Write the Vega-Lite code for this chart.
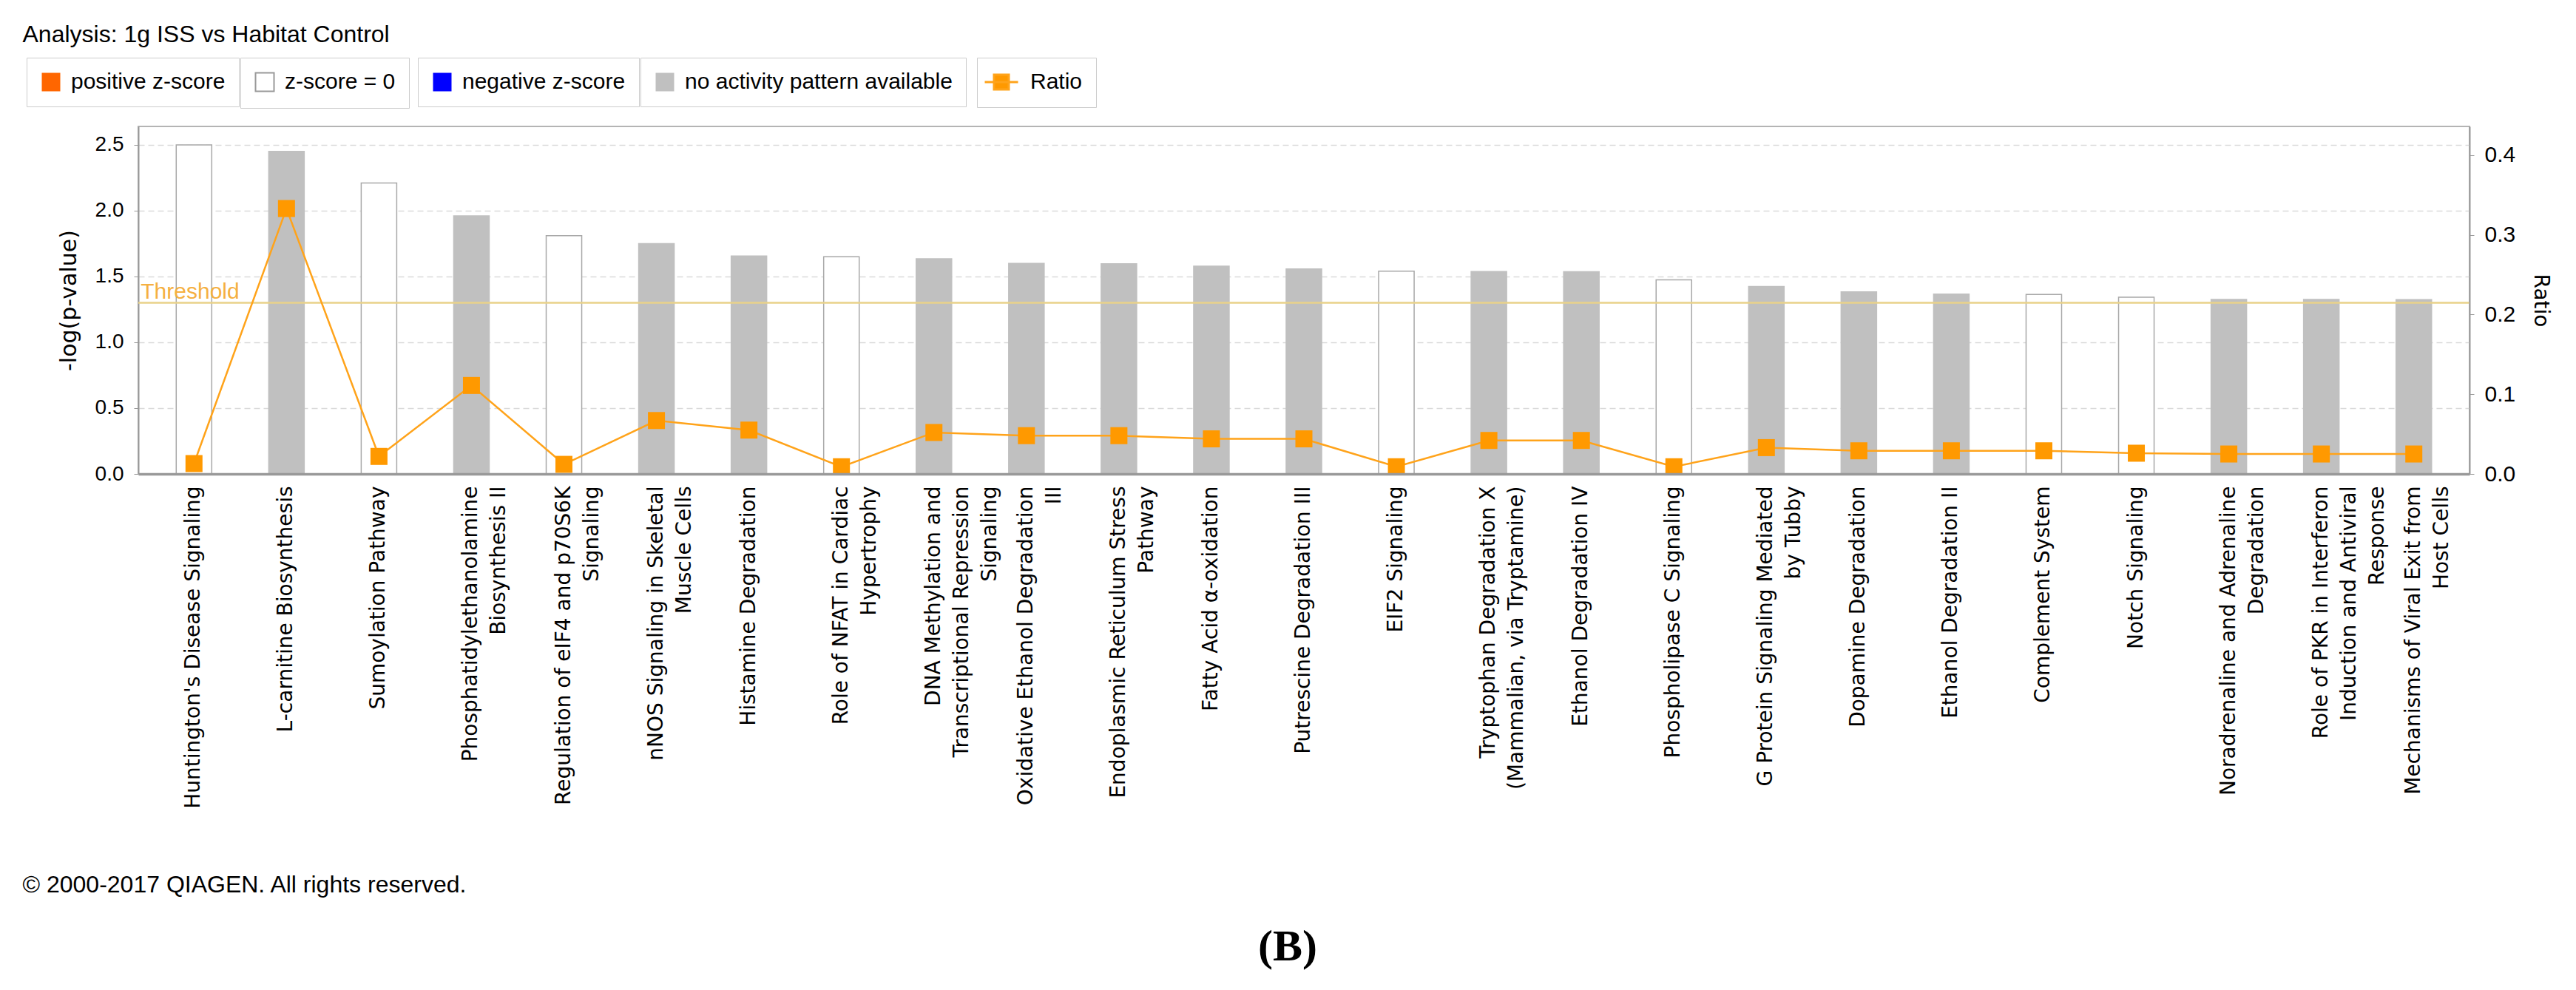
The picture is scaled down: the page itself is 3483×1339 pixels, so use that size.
{
  "$schema": "https://vega.github.io/schema/vega-lite/v6.json",
  "width": 3152,
  "height": 470,
  "autosize": {"type": "none"},
  "padding": {"left": 187, "top": 171, "right": 144, "bottom": 698},
  "background": "#FFFFFF",
  "config": {
    "view": {"stroke": "#B4B4B4", "strokeWidth": 2},
    "legend": {
      "labelFont": "Liberation Sans",
      "labelFontSize": 30,
      "labelColor": "#000000",
      "labelLimit": 1000,
      "padding": 18,
      "strokeColor": "#CCCCCC",
      "fillColor": "#FFFFFF",
      "symbolSize": 625,
      "symbolOpacity": 1,
      "labelOffset": 12,
      "symbolType": "square"
    }
  },
  "title": {
    "text": "(B)",
    "orient": "bottom",
    "anchor": "middle",
    "font": "Liberation Serif",
    "fontSize": 60,
    "fontWeight": "bold",
    "color": "#000000",
    "offset": 40,
    "dx": -22
  },
  "data": {
    "values": [
      {"rank": 1, "pathway": "Huntington's Disease Signaling", "logp": 2.5, "ratio": 0.013, "activity": "z-score = 0"},
      {"rank": 2, "pathway": "L-carnitine Biosynthesis", "logp": 2.45, "ratio": 0.333, "activity": "no activity pattern available"},
      {"rank": 3, "pathway": "Sumoylation Pathway", "logp": 2.21, "ratio": 0.022, "activity": "z-score = 0"},
      {"rank": 4, "pathway": "Phosphatidylethanolamine|Biosynthesis II", "logp": 1.96, "ratio": 0.111, "activity": "no activity pattern available"},
      {"rank": 5, "pathway": "Regulation of eIF4 and p70S6K|Signaling", "logp": 1.81, "ratio": 0.012, "activity": "z-score = 0"},
      {"rank": 6, "pathway": "nNOS Signaling in Skeletal|Muscle Cells", "logp": 1.75, "ratio": 0.067, "activity": "no activity pattern available"},
      {"rank": 7, "pathway": "Histamine Degradation", "logp": 1.655, "ratio": 0.055, "activity": "no activity pattern available"},
      {"rank": 8, "pathway": "Role of NFAT in Cardiac|Hypertrophy", "logp": 1.65, "ratio": 0.009, "activity": "z-score = 0"},
      {"rank": 9, "pathway": "DNA Methylation and|Transcriptional Repression|Signaling", "logp": 1.635, "ratio": 0.052, "activity": "no activity pattern available"},
      {"rank": 10, "pathway": "Oxidative Ethanol Degradation|III", "logp": 1.6, "ratio": 0.048, "activity": "no activity pattern available"},
      {"rank": 11, "pathway": "Endoplasmic Reticulum Stress|Pathway", "logp": 1.596, "ratio": 0.048, "activity": "no activity pattern available"},
      {"rank": 12, "pathway": "Fatty Acid α-oxidation", "logp": 1.578, "ratio": 0.044, "activity": "no activity pattern available"},
      {"rank": 13, "pathway": "Putrescine Degradation III", "logp": 1.558, "ratio": 0.044, "activity": "no activity pattern available"},
      {"rank": 14, "pathway": "EIF2 Signaling", "logp": 1.54, "ratio": 0.009, "activity": "z-score = 0"},
      {"rank": 15, "pathway": "Tryptophan Degradation X|(Mammalian, via Tryptamine)", "logp": 1.538, "ratio": 0.042, "activity": "no activity pattern available"},
      {"rank": 16, "pathway": "Ethanol Degradation IV", "logp": 1.536, "ratio": 0.042, "activity": "no activity pattern available"},
      {"rank": 17, "pathway": "Phospholipase C Signaling", "logp": 1.474, "ratio": 0.009, "activity": "z-score = 0"},
      {"rank": 18, "pathway": "G Protein Signaling Mediated|by Tubby", "logp": 1.424, "ratio": 0.033, "activity": "no activity pattern available"},
      {"rank": 19, "pathway": "Dopamine Degradation", "logp": 1.383, "ratio": 0.029, "activity": "no activity pattern available"},
      {"rank": 20, "pathway": "Ethanol Degradation II", "logp": 1.366, "ratio": 0.029, "activity": "no activity pattern available"},
      {"rank": 21, "pathway": "Complement System", "logp": 1.364, "ratio": 0.029, "activity": "z-score = 0"},
      {"rank": 22, "pathway": "Notch Signaling", "logp": 1.343, "ratio": 0.026, "activity": "z-score = 0"},
      {"rank": 23, "pathway": "Noradrenaline and Adrenaline|Degradation", "logp": 1.325, "ratio": 0.025, "activity": "no activity pattern available"},
      {"rank": 24, "pathway": "Role of PKR in Interferon|Induction and Antiviral|Response", "logp": 1.325, "ratio": 0.025, "activity": "no activity pattern available"},
      {"rank": 25, "pathway": "Mechanisms of Viral Exit from|Host Cells", "logp": 1.324, "ratio": 0.025, "activity": "no activity pattern available"}
    ]
  },
  "layer": [
    {
      "layer": [
        {
          "mark": {"type": "bar", "strokeWidth": 1.5},
          "encoding": {
            "x": {
              "field": "pathway",
              "type": "nominal",
              "sort": null,
              "scale": {"paddingInner": 0.616, "paddingOuter": 0.41},
              "axis": {
                "orient": "bottom",
                "title": "© 2000-2017 QIAGEN. All rights reserved.",
                "titleX": -157,
                "titleY": 565,
                "titleAlign": "left",
                "titleAnchor": "start",
                "titleAngle": 0,
                "titleBaseline": "alphabetic",
                "titleFont": "Liberation Sans",
                "titleFontSize": 32,
                "titleFontWeight": "normal",
                "titleColor": "#000000",
                "labelAngle": -90,
                "labelAlign": "right",
                "labelBaseline": "middle",
                "labelFont": "DejaVu Sans",
                "labelFontSize": 28,
                "labelColor": "#000000",
                "labelLimit": 1000,
                "labelOverlap": false,
                "labelPadding": 16,
                "labelLineHeight": 38,
                "labelExpr": "split(datum.label, '|')",
                "ticks": false,
                "tickSize": 0,
                "domainColor": "#999999",
                "domainWidth": 3.5,
                "grid": false,
                "zindex": 1
              }
            },
            "y": {
              "field": "logp",
              "type": "quantitative",
              "scale": {"domain": [0, 2.64], "nice": false, "zero": true},
              "axis": {
                "orient": "left",
                "title": "-log(p-value)",
                "titleFont": "DejaVu Sans",
                "titleFontSize": 30,
                "titleFontWeight": "normal",
                "titleColor": "#000000",
                "titlePadding": 20,
                "values": [0, 0.5, 1, 1.5, 2, 2.5],
                "format": ".1f",
                "labelFont": "Liberation Sans",
                "labelFontSize": 28,
                "labelColor": "#000000",
                "labelPadding": 14,
                "tickSize": 6,
                "tickColor": "#999999",
                "domainColor": "#999999",
                "domainWidth": 2,
                "grid": true,
                "gridDash": [8, 5],
                "gridColor": "#DADADA",
                "gridWidth": 1.5
              }
            },
            "color": {
              "field": "activity",
              "type": "nominal",
              "scale": {"domain": ["z-score = 0", "no activity pattern available"], "range": ["#FFFFFF", "#C0C0C0"]},
              "legend": null
            },
            "stroke": {
              "field": "activity",
              "type": "nominal",
              "scale": {"domain": ["z-score = 0", "no activity pattern available"], "range": ["#A8A8A8", "#C0C0C0"]},
              "legend": null
            }
          }
        },
        {
          "data": {"values": [{"threshold": 1.3, "label": "Threshold", "pathway": "Huntington's Disease Signaling"}]},
          "mark": {"type": "rule", "color": "#E9D28A", "strokeWidth": 2.5},
          "encoding": {
            "y": {"field": "threshold", "type": "quantitative"}
          }
        },
        {
          "data": {"values": [{"threshold": 1.3, "label": "Threshold", "pathway": "Huntington's Disease Signaling"}]},
          "mark": {"type": "text", "align": "left", "baseline": "alphabetic", "dx": -48, "dy": -6, "font": "Liberation Sans", "fontSize": 30, "color": "#F5B041"},
          "encoding": {
            "x": {"field": "pathway", "type": "nominal", "sort": null, "bandPosition": 0},
            "y": {"field": "threshold", "type": "quantitative"},
            "text": {"field": "label"}
          }
        }
      ]
    },
    {
      "layer": [
        {
          "mark": {"type": "line", "color": "#FFA31A", "strokeWidth": 2.5},
          "encoding": {
            "x": {
              "field": "pathway",
              "type": "nominal",
              "sort": null,
              "axis": {
                "orient": "top",
                "labels": false,
                "ticks": false,
                "domain": false,
                "grid": false,
                "title": "Analysis: 1g ISS vs Habitat Control",
                "titleX": -157,
                "titleY": -115,
                "titleAlign": "left",
                "titleAnchor": "start",
                "titleAngle": 0,
                "titleBaseline": "alphabetic",
                "titleFont": "Liberation Sans",
                "titleFontSize": 32,
                "titleFontWeight": "normal",
                "titleColor": "#000000"
              }
            },
            "y": {
              "field": "ratio",
              "type": "quantitative",
              "scale": {"domain": [0, 0.436], "nice": false, "zero": true},
              "axis": {
                "orient": "right",
                "title": "Ratio",
                "titleAngle": 90,
                "titleFont": "DejaVu Sans",
                "titleFontSize": 28,
                "titleFontWeight": "normal",
                "titleColor": "#000000",
                "titlePadding": 20,
                "values": [0, 0.1, 0.2, 0.3, 0.4],
                "format": ".1f",
                "labelFont": "Liberation Sans",
                "labelFontSize": 30,
                "labelColor": "#000000",
                "labelPadding": 14,
                "tickSize": 6,
                "tickColor": "#999999",
                "domainColor": "#999999",
                "domainWidth": 2,
                "grid": false,
                "zindex": 1
              }
            },
            "order": {"field": "rank", "type": "quantitative"}
          }
        },
        {
          "mark": {"type": "square", "size": 529, "color": "#FF9900", "opacity": 1},
          "encoding": {
            "x": {"field": "pathway", "type": "nominal", "sort": null},
            "y": {"field": "ratio", "type": "quantitative"}
          }
        }
      ]
    },
    {
      "data": {"values": []},
      "mark": {"type": "square", "filled": true, "opacity": 1},
      "encoding": {
        "color": {"datum": "positive z-score", "type": "nominal", "scale": {"domain": ["positive z-score"], "range": ["#FF6600"]},
          "legend": {"title": null, "orient": "none", "legendX": -151, "legendY": -93}}
      }
    },
    {
      "data": {"values": []},
      "mark": {"type": "square", "filled": true, "opacity": 1, "stroke": "#999999", "strokeWidth": 2},
      "encoding": {
        "color": {"datum": "z-score = 0", "type": "nominal", "scale": {"domain": ["z-score = 0"], "range": ["#FFFFFF"]},
          "legend": {"title": null, "orient": "none", "legendX": 138, "legendY": -93, "symbolStrokeColor": "#999999", "symbolStrokeWidth": 2}}
      }
    },
    {
      "data": {"values": []},
      "mark": {"type": "square", "filled": true, "opacity": 1},
      "encoding": {
        "color": {"datum": "negative z-score", "type": "nominal", "scale": {"domain": ["negative z-score"], "range": ["#0000FF"]},
          "legend": {"title": null, "orient": "none", "legendX": 378, "legendY": -93}}
      }
    },
    {
      "data": {"values": []},
      "mark": {"type": "square", "filled": true, "opacity": 1},
      "encoding": {
        "color": {"datum": "no activity pattern available", "type": "nominal", "scale": {"domain": ["no activity pattern available"], "range": ["#C0C0C0"]},
          "legend": {"title": null, "orient": "none", "legendX": 679, "legendY": -93}}
      }
    },
    {
      "data": {"values": []},
      "mark": {"type": "point", "shape": "M-1.8,0H1.8M-0.8,-0.8H0.8V0.8H-0.8Z", "filled": true, "opacity": 1, "stroke": "#FFA31A", "strokeWidth": 3},
      "encoding": {
        "color": {"datum": "Ratio", "type": "nominal", "scale": {"domain": ["Ratio"], "range": ["#FF9900"]},
          "legend": {"title": null, "orient": "none", "legendX": 1134, "legendY": -93, "symbolType": "M-1.8,0H1.8M-0.8,-0.8H0.8V0.8H-0.8Z", "symbolStrokeColor": "#FFA31A", "symbolStrokeWidth": 3, "labelOffset": 24}}
      }
    }
  ],
  "resolve": {
    "scale": {"y": "independent", "color": "independent"},
    "axis": {"x": "independent"}
  }
}
